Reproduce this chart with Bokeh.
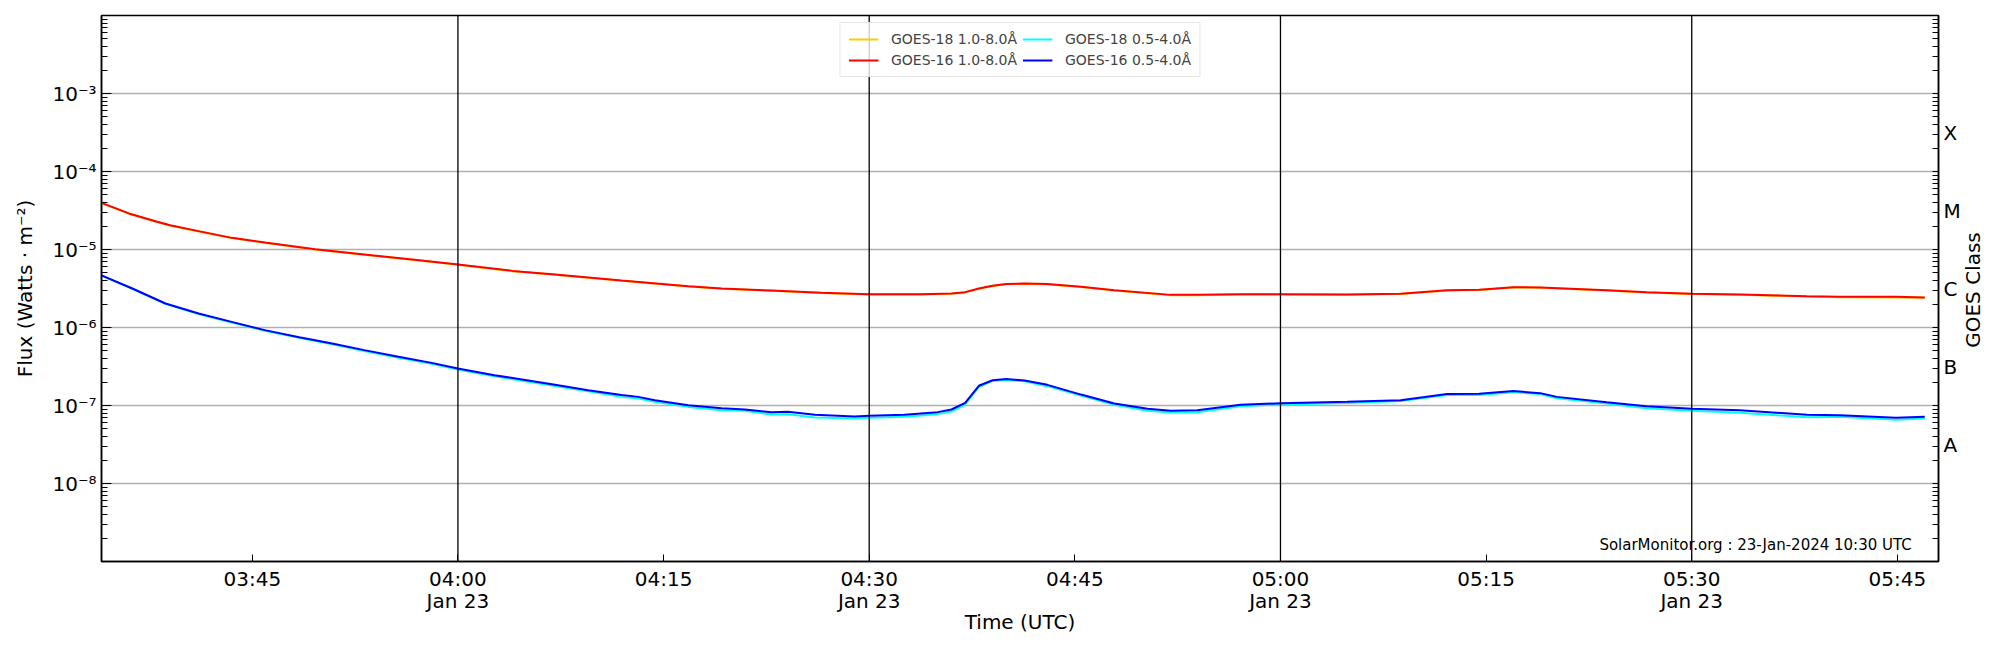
import math
import pandas as pd
from bokeh.plotting import figure
from bokeh.models import (Range1d, FixedTicker, CustomJSTickFormatter, LogAxis,
                          Span, Label, Legend, LegendItem)
from bokeh.embed import file_html
from bokeh.resources import INLINE

DAY = "2024-01-23"

# ---- GOES 1.0-8.0 A (long channel) ----
time_long = ["03:34:00", "03:36:00", "03:38:00", "03:39:00", "03:41:05", "03:43:30", "03:45:55",
             "03:49:35", "03:53:10", "03:56:50", "04:00:00", "04:04:00", "04:07:05", "04:11:56",
             "04:16:48", "04:19:14", "04:22:52", "04:26:31", "04:30:00", "04:33:48", "04:36:00",
             "04:37:00", "04:38:00", "04:39:00", "04:40:00", "04:41:20", "04:43:00", "04:45:27",
             "04:47:53", "04:52:00", "04:53:56", "04:57:06", "05:00:00", "05:04:52", "05:08:46",
             "05:12:09", "05:14:30", "05:17:00", "05:18:57", "05:23:48", "05:26:42", "05:30:00",
             "05:33:30", "05:38:24", "05:40:48", "05:44:54", "05:47:00"]
goes16_long = [3.96e-5, 2.90e-5, 2.29e-5, 2.05e-5, 1.72e-5, 1.41e-5, 1.23e-5,
               1.01e-5, 8.63e-6, 7.38e-6, 6.43e-6, 5.32e-6, 4.77e-6, 4.01e-6,
               3.39e-6, 3.16e-6, 2.98e-6, 2.78e-6, 2.67e-6, 2.67e-6, 2.73e-6,
               2.84e-6, 3.16e-6, 3.42e-6, 3.60e-6, 3.66e-6, 3.60e-6, 3.32e-6,
               3.01e-6, 2.62e-6, 2.62e-6, 2.67e-6, 2.67e-6, 2.65e-6, 2.70e-6,
               3.01e-6, 3.05e-6, 3.29e-6, 3.26e-6, 3.01e-6, 2.84e-6, 2.70e-6,
               2.65e-6, 2.52e-6, 2.47e-6, 2.47e-6, 2.43e-6]
goes18_long = [3.93e-5, 2.88e-5, 2.27e-5, 2.03e-5, 1.70e-5, 1.40e-5, 1.22e-5,
               1.00e-5, 8.55e-6, 7.31e-6, 6.37e-6, 5.27e-6, 4.73e-6, 3.97e-6,
               3.36e-6, 3.13e-6, 2.96e-6, 2.76e-6, 2.65e-6, 2.65e-6, 2.71e-6,
               2.82e-6, 3.13e-6, 3.40e-6, 3.58e-6, 3.64e-6, 3.57e-6, 3.30e-6,
               2.99e-6, 2.60e-6, 2.60e-6, 2.65e-6, 2.65e-6, 2.63e-6, 2.68e-6,
               2.98e-6, 3.03e-6, 3.26e-6, 3.24e-6, 2.99e-6, 2.82e-6, 2.68e-6,
               2.62e-6, 2.49e-6, 2.44e-6, 2.43e-6, 2.40e-6]

# ---- GOES 0.5-4.0 A (short channel) ----
time_short = ["03:34:00", "03:36:15", "03:38:40", "03:41:05", "03:43:30", "03:45:55", "03:48:25",
              "03:50:50", "03:53:10", "03:55:40", "03:58:05", "04:00:00", "04:02:40", "04:07:05",
              "04:09:30", "04:11:56", "04:13:10", "04:14:22", "04:16:48", "04:19:14", "04:20:56",
              "04:22:52", "04:24:05", "04:26:02", "04:28:56", "04:30:00", "04:32:35", "04:35:00",
              "04:36:00", "04:37:00", "04:38:00", "04:39:00", "04:40:00", "04:41:20", "04:43:00",
              "04:45:27", "04:47:53", "04:50:18", "04:52:00", "04:53:56", "04:57:06", "05:00:00",
              "05:04:52", "05:08:46", "05:12:09", "05:14:30", "05:17:00", "05:18:57", "05:20:10",
              "05:23:48", "05:26:42", "05:30:00", "05:33:30", "05:38:24", "05:40:48", "05:44:54",
              "05:47:00"]
goes16_short = [4.65e-6, 3.16e-6, 2.03e-6, 1.51e-6, 1.18e-6, 9.25e-7, 7.52e-7,
                6.24e-7, 5.13e-7, 4.21e-7, 3.52e-7, 2.98e-7, 2.45e-7, 1.84e-7,
                1.57e-7, 1.36e-7, 1.29e-7, 1.17e-7, 1.01e-7, 9.25e-8, 8.89e-8,
                8.22e-8, 8.30e-8, 7.59e-8, 7.23e-8, 7.38e-8, 7.59e-8, 8.22e-8,
                8.89e-8, 1.08e-7, 1.79e-7, 2.11e-7, 2.18e-7, 2.09e-7, 1.84e-7,
                1.38e-7, 1.06e-7, 9.06e-8, 8.55e-8, 8.71e-8, 1.02e-7, 1.07e-7,
                1.12e-7, 1.17e-7, 1.40e-7, 1.41e-7, 1.53e-7, 1.44e-7, 1.29e-7,
                1.10e-7, 9.79e-8, 9.06e-8, 8.71e-8, 7.59e-8, 7.52e-8, 6.95e-8,
                7.16e-8]
goes18_short = [4.62e-6, 3.13e-6, 2.01e-6, 1.49e-6, 1.16e-6, 9.10e-7, 7.38e-7,
                6.10e-7, 5.00e-7, 4.10e-7, 3.42e-7, 2.89e-7, 2.37e-7, 1.78e-7,
                1.52e-7, 1.29e-7, 1.23e-7, 1.12e-7, 9.60e-8, 8.71e-8, 8.55e-8,
                7.67e-8, 7.75e-8, 7.02e-8, 6.81e-8, 6.95e-8, 7.16e-8, 7.75e-8,
                8.38e-8, 1.03e-7, 1.73e-7, 2.07e-7, 2.11e-7, 2.05e-7, 1.77e-7,
                1.34e-7, 1.02e-7, 8.55e-8, 8.13e-8, 8.22e-8, 9.80e-8, 1.03e-7,
                1.08e-7, 1.14e-7, 1.36e-7, 1.36e-7, 1.48e-7, 1.40e-7, 1.24e-7,
                1.06e-7, 9.25e-8, 8.55e-8, 8.05e-8, 7.08e-8, 7.16e-8, 6.55e-8,
                6.81e-8]

x_start, x_end = "03:34:00", "05:48:00"
tick_times = ["03:45", "04:00", "04:15", "04:30", "04:45", "05:00", "05:15", "05:30", "05:45"]
divider_times = ["04:00", "04:30", "05:00", "05:30"]
decade_exponents = [-8, -7, -6, -5, -4, -3]
all_decades = [-9, -8, -7, -6, -5, -4, -3]
goes_classes = ["A", "B", "C", "M", "X"]
class_exponents = [-7.5, -6.5, -5.5, -4.5, -3.5]
class_title = "GOES Class"
credit = "SolarMonitor.org : 23-Jan-2024 10:30 UTC"

FONT = "DejaVu Sans"


def ts(hm):
    return pd.Timestamp(f"{DAY} {hm}")


p = figure(width=2000, height=642, y_axis_type="log",
           x_range=Range1d(ts(x_start), ts(x_end)),
           y_range=Range1d(1e-9, 1e-2),
           output_backend="svg", toolbar_location=None,
           min_border_left=101, min_border_right=50,
           min_border_top=15, min_border_bottom=81)
p.background_fill_color = "white"
p.border_fill_color = "white"
p.outline_line_color = "black"
p.outline_line_width = 1.5
p.outline_line_alpha = 1.0

tl = [ts(t) for t in time_long]
tsh = [ts(t) for t in time_short]
r_g18l = p.line(tl, goes18_long, line_color="#ffcc00", line_width=2)
r_g16l = p.line(tl, goes16_long, line_color="#ff0000", line_width=2)
r_g18s = p.line(tsh, goes18_short, line_color="#00ffff", line_width=2)
r_g16s = p.line(tsh, goes16_short, line_color="#0000ff", line_width=2)

for t in divider_times:
    p.add_layout(Span(location=ts(t), dimension="height", line_color="black",
                      line_width=1.3, level="overlay"))

# y axis (left)
minors = [m * 10.0 ** e for e in all_decades for m in range(2, 10)]
yax = p.yaxis[0]
yax.ticker = FixedTicker(ticks=[10.0 ** e for e in decade_exponents], minor_ticks=minors)
yax.formatter = CustomJSTickFormatter(code="""
const e = Math.round(Math.log10(tick));
const sup = {'-':'\u207b','0':'\u2070','1':'\u00b9','2':'\u00b2','3':'\u00b3','4':'\u2074',
             '5':'\u2075','6':'\u2076','7':'\u2077','8':'\u2078','9':'\u2079'};
return '10' + String(e).split('').map(c => sup[c]).join('');
""")
yax.axis_label = "Flux (Watts \u00b7 m\u207b\u00b2)"
yax.major_tick_in = 10
yax.major_tick_out = 0
yax.minor_tick_in = 6
yax.minor_tick_out = 0
yax.major_label_standoff = 5
yax.axis_label_standoff = 12

# right class axis (letters)
rax = LogAxis(ticker=FixedTicker(ticks=[10.0 ** e for e in class_exponents],
                                 minor_ticks=minors + [10.0 ** e for e in all_decades]))
rax.formatter = CustomJSTickFormatter(args=dict(levels=class_exponents, names=goes_classes), code="""
const lt = Math.log10(tick);
let best = 0;
for (let i = 0; i < levels.length; i++) {
  if (Math.abs(levels[i] - lt) < Math.abs(levels[best] - lt)) best = i;
}
return names[best];
""")
rax.major_tick_in = 0
rax.major_tick_out = 0
rax.minor_tick_in = 6
rax.minor_tick_out = 0
rax.major_label_standoff = 5
p.add_layout(rax, "right")

# right title "GOES Class", reading bottom to top, drawn as a rotated tick label
tax = LogAxis(ticker=FixedTicker(ticks=[10.0 ** -6.26], minor_ticks=[]))
tax.formatter = CustomJSTickFormatter(args=dict(title=class_title), code="return title;")
tax.major_label_orientation = math.pi / 2
tax.axis_line_color = None
tax.major_tick_line_color = None
tax.minor_tick_line_color = None
tax.major_tick_in = 0
tax.major_tick_out = 0
tax.minor_tick_in = 0
tax.minor_tick_out = 0
tax.major_label_standoff = 10
tax.major_label_text_font = FONT
tax.major_label_text_font_size = "20px"
tax.major_label_text_color = "black"
p.add_layout(tax, "right")

# x axis
xax = p.xaxis[0]
xax.ticker = FixedTicker(ticks=[ts(t).value // 10**6 for t in tick_times], minor_ticks=[])
xax.formatter = CustomJSTickFormatter(code="""
const d = new Date(tick);
const months = ['Jan','Feb','Mar','Apr','May','Jun','Jul','Aug','Sep','Oct','Nov','Dec'];
const hh = String(d.getUTCHours()).padStart(2, '0');
const mm = String(d.getUTCMinutes()).padStart(2, '0');
let s = hh + ':' + mm;
if (d.getUTCMinutes() % 30 == 0) s += '\\n' + months[d.getUTCMonth()] + ' ' + d.getUTCDate();
return s;
""")
xax.axis_label = "Time (UTC)"
xax.major_tick_in = 7
xax.major_tick_out = 0
xax.minor_tick_in = 0
xax.minor_tick_out = 0
xax.major_label_standoff = 5
xax.axis_label_standoff = -6
xax.major_label_text_line_height = 0.93

for ax in [xax, yax, rax]:
    ax.axis_line_color = "black"
    ax.axis_line_width = 1.5
    ax.major_tick_line_color = "black"
    ax.minor_tick_line_color = "black"
    ax.major_label_text_font = FONT
    ax.major_label_text_font_size = "20px"
    ax.major_label_text_color = "black"
    ax.axis_label_text_font = FONT
    ax.axis_label_text_font_size = "20px"
    ax.axis_label_text_font_style = "normal"
    ax.axis_label_text_color = "black"

p.xgrid.visible = False
p.ygrid.grid_line_color = "#b0b0b0"
p.ygrid.grid_line_width = 1.6

p.add_layout(Label(x=ts(x_end) - pd.Timedelta(minutes=1.95), y=10 ** -8.79, text=credit,
                   text_align="right", text_baseline="alphabetic",
                   text_font=FONT, text_font_size="15px", text_color="black"))

legend = Legend(items=[
    LegendItem(label="GOES-18 1.0-8.0\u00c5", renderers=[r_g18l]),
    LegendItem(label="GOES-16 1.0-8.0\u00c5", renderers=[r_g16l]),
    LegendItem(label="GOES-18 0.5-4.0\u00c5", renderers=[r_g18s]),
    LegendItem(label="GOES-16 0.5-4.0\u00c5", renderers=[r_g16s]),
], location="top_center", orientation="vertical", ncols=2)
legend.label_text_font = FONT
legend.label_text_font_size = "14px"
legend.glyph_width = 30
legend.glyph_height = 16
legend.label_height = 16
legend.label_standoff = 13
legend.spacing = 5
legend.padding = 8
legend.margin = 7
legend.border_line_color = "#cccccc"
legend.border_line_width = 1
legend.background_fill_alpha = 0.8
p.add_layout(legend)

open("out.html", "w").write(file_html(p, INLINE))
